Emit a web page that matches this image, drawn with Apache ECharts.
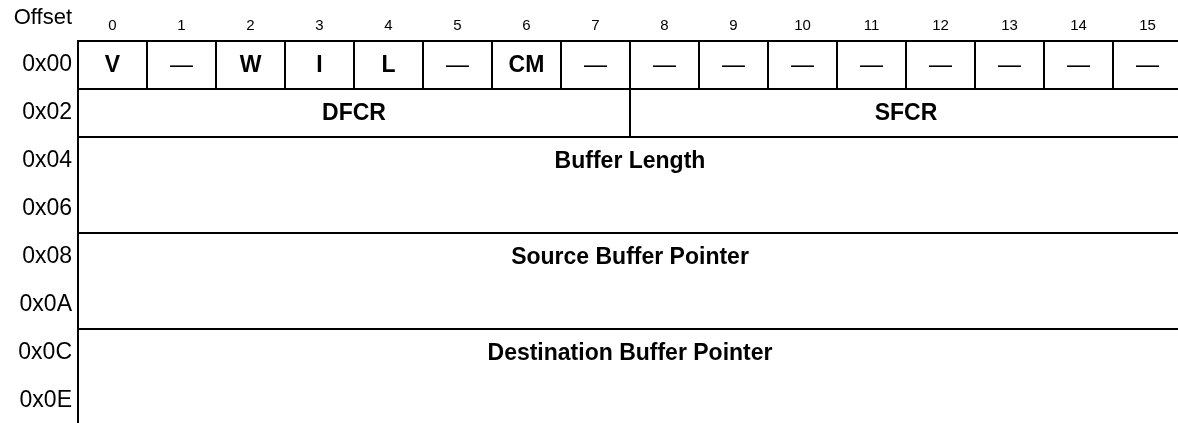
<!DOCTYPE html>
<html>
<head>
<meta charset="utf-8">
<script src="https://cdn.jsdelivr.net/npm/echarts@6/dist/echarts.min.js"></script>
<style>
html,body{margin:0;padding:0;background:#fff;}
#chart{width:1178px;height:423px;}
</style>
</head>
<body>
<div id="chart"></div>
<script>
// Bit numbers (column labels)
var bitLabels = ['0','1','2','3','4','5','6','7','8','9','10','11','12','13','14','15'];
// Offsets (row labels)
var offsetLabels = ['0x00','0x02','0x04','0x06','0x08','0x0A','0x0C','0x0E'];
// Fields of the register layout
var fieldNames = ['V','—','W','I','L','—','CM','—','—','—','—','—','—','—','—','—',
                  'DFCR','SFCR','Buffer Length','Source Buffer Pointer','Destination Buffer Pointer'];
var fieldBitStart = [0,1,2,3,4,5,6,7,8,9,10,11,12,13,14,15, 0,8, 0,0,0];
var fieldBitEnd   = [1,2,3,4,5,6,7,8,9,10,11,12,13,14,15,16, 8,16, 16,16,16];
var fieldRowStart = [0,0,0,0,0,0,0,0,0,0,0,0,0,0,0,0, 1,1, 2,4,6];
var fieldRowEnd   = [1,1,1,1,1,1,1,1,1,1,1,1,1,1,1,1, 2,2, 4,6,8];

var FONT = 'Arial, "Liberation Sans", Helvetica, sans-serif';

var data = fieldNames.map(function (n, i) {
  return [fieldBitStart[i], fieldBitEnd[i], fieldRowStart[i], fieldRowEnd[i], n];
});

var chart = echarts.init(document.getElementById('chart'));
chart.setOption({
  backgroundColor: '#fff',
  animation: false,
  grid: { left: 78, top: 41, width: 1104, height: 384, outerBoundsMode: 'none', containLabel: false },
  xAxis: [
    {
      type: 'category', data: bitLabels, position: 'top', gridIndex: 0,
      axisLine: { show: false }, axisTick: { show: false }, splitLine: { show: false },
      axisLabel: { color: '#000', fontSize: 15, fontFamily: FONT, margin: 8 }
    },
    {
      type: 'value', min: 0, max: 16, gridIndex: 0, show: false
    }
  ],
  yAxis: [
    {
      type: 'category', data: offsetLabels, inverse: true, gridIndex: 0,
      axisLine: { show: false }, axisTick: { show: false }, splitLine: { show: false },
      axisLabel: { color: '#000', fontSize: 23, fontFamily: FONT, margin: 6 },
      name: 'Offset', nameLocation: 'start', nameGap: 23,
      nameTextStyle: { color: '#000', fontSize: 22, fontFamily: FONT, align: 'right', verticalAlign: 'middle', padding: [0, 6, 0, 0] }
    },
    {
      type: 'value', min: 0, max: 8, inverse: true, gridIndex: 0, show: false
    }
  ],
  series: [{
    type: 'custom',
    xAxisIndex: 1,
    yAxisIndex: 1,
    clip: false,
    data: data,
    renderItem: function (params, api) {
      var x0 = api.value(0), x1 = api.value(1), y0 = api.value(2), y1 = api.value(3);
      var name = fieldNames[params.dataIndex];
      var p0 = api.coord([x0, y0]);
      var p1 = api.coord([x1, y1]);
      var pMid = api.coord([(x0 + x1) / 2, y0 + 0.5]);
      var isDash = name === '—';
      return {
        type: 'group',
        children: [
          {
            type: 'rect',
            shape: { x: p0[0], y: p0[1], width: p1[0] - p0[0], height: p1[1] - p0[1] },
            style: { fill: 'none', stroke: '#000', lineWidth: 2 }
          },
          {
            type: 'text',
            style: {
              text: name, x: pMid[0], y: pMid[1] + 1, align: 'center', verticalAlign: 'middle',
              fill: '#000',
              font: (isDash ? 'normal ' : 'bold ') + '23px ' + FONT
            }
          }
        ]
      };
    }
  }]
});
</script>
</body>
</html>
